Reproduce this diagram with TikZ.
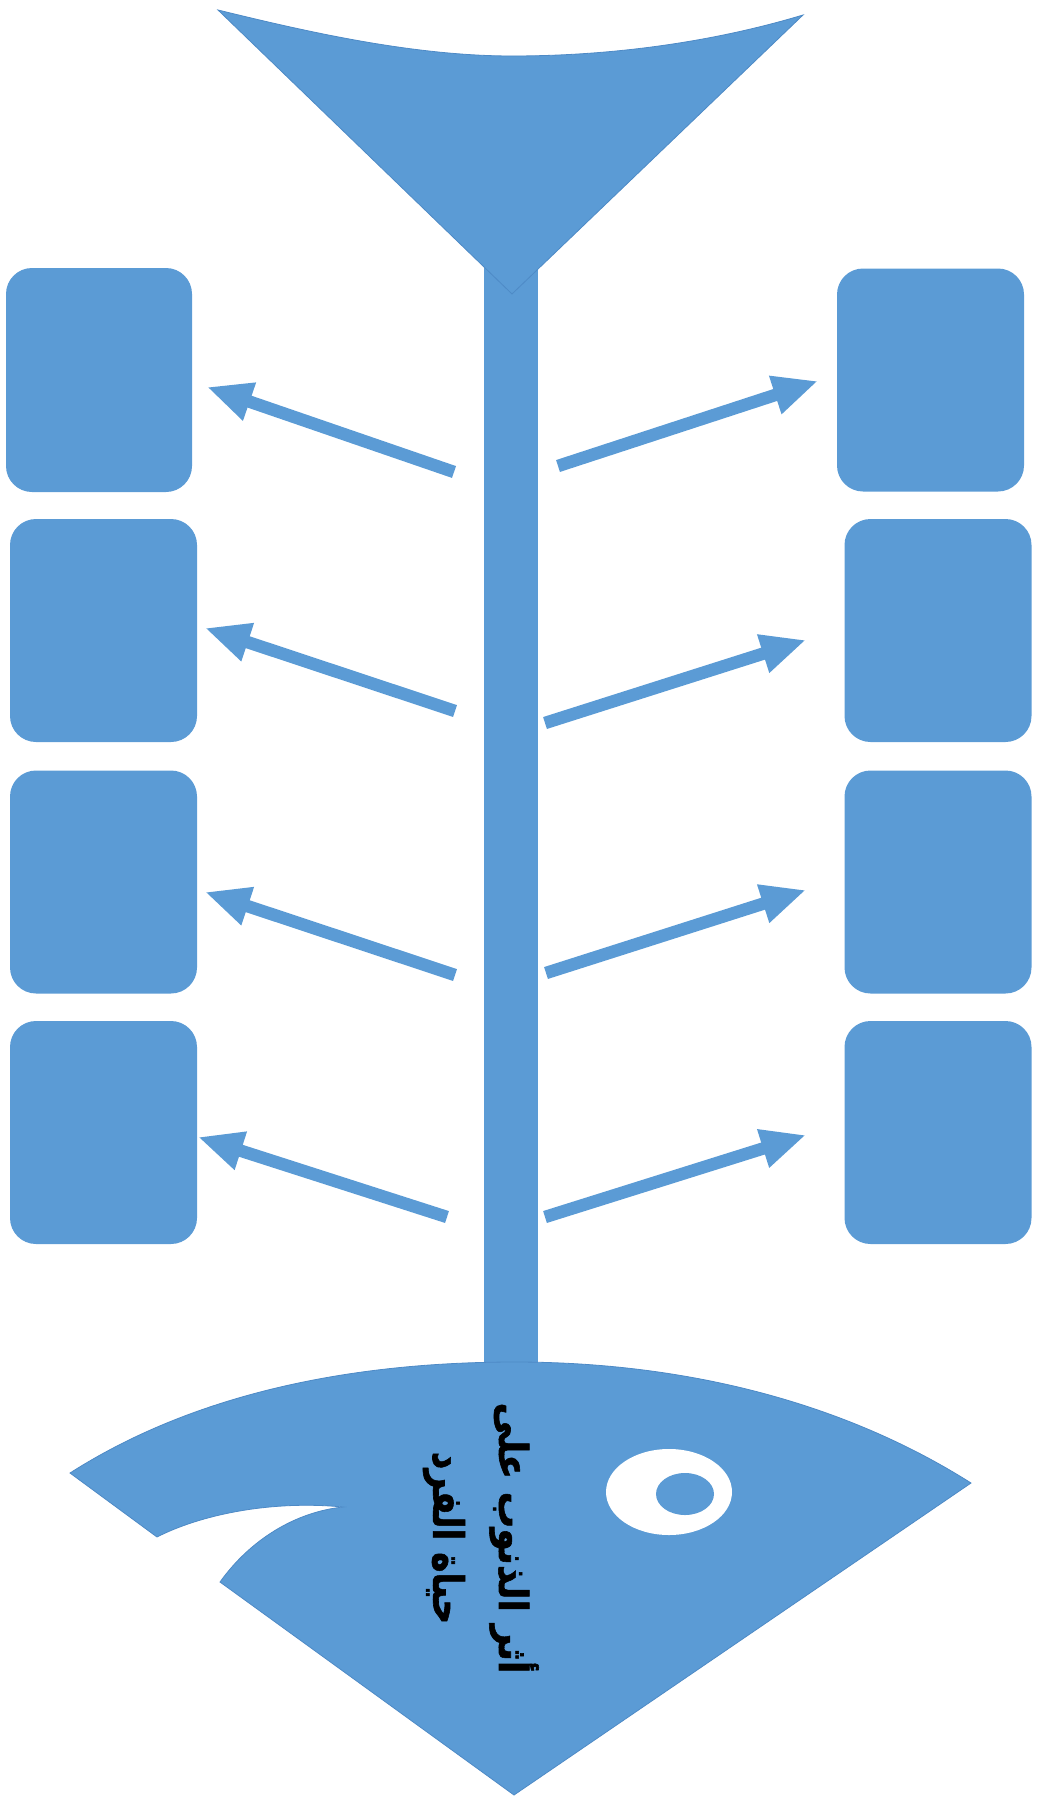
\documentclass[tikz,border=0pt]{standalone}
\usepackage{fontspec}
\usetikzlibrary{arrows.meta}
\TeXXeTstate=1
\newfontfamily\arabicfont[Script=Arabic, BoldFeatures={FakeBold=1.5}]{DejaVu Sans}
\definecolor{fishblue}{RGB}{91,155,213}
\definecolor{fishedge}{RGB}{78,138,198}
\tikzset{
  fishpart/.style={fill=fishblue, draw=fishedge, line width=0.8pt},
  bonebox/.style={rectangle, rounded corners=26pt, fill=fishblue, draw=none,
    inner sep=0pt, minimum width=187pt, minimum height=223pt},
  bonearrow/.style={draw=fishblue, line width=12.5pt,
    -{Triangle[length=45pt,width=37pt]}},
  titletext/.style={rotate=-90, inner sep=0pt,
    font=\arabicfont\bfseries\fontsize{40}{48}\selectfont},
}
\begin{document}
\begin{tikzpicture}[x=1pt,y=-1pt]
\useasboundingbox (0,0) rectangle (1038,1803);
% spine
\fill[fishblue] (484,250) rectangle (538,1375);
% tail
\path[fishpart] (218,10) .. controls (300,30) and (410,56) .. (512,56)
  .. controls (620,56) and (720,40) .. (803,15) -- (512,294) -- cycle;
% head
\path[fishpart] (70,1473) .. controls (200,1390) and (360,1362) .. (515,1362)
  .. controls (680,1362) and (840,1400) .. (971,1483)
  -- (514,1795) -- (220,1582)
  .. controls (250,1540) and (295,1512) .. (343,1507)
  .. controls (270,1500) and (200,1515) .. (157,1537) -- cycle;
% eye
\fill[white] (669,1492) ellipse [x radius=63, y radius=43];
\fill[fishblue] (685,1494) ellipse [x radius=29, y radius=21];
% boxes
\node[bonebox, minimum width=186pt, minimum height=224pt] (L1) at (99,380) {};
\node[bonebox] (L2) at (103.5,630.5) {};
\node[bonebox] (L3) at (103.5,882) {};
\node[bonebox] (L4) at (103.5,1132.5) {};
\node[bonebox] (R1) at (930.5,380) {};
\node[bonebox] (R2) at (938,630.5) {};
\node[bonebox] (R3) at (938,882) {};
\node[bonebox] (R4) at (938,1132.5) {};
% arrow end points
\coordinate (ls1) at (454,472); \coordinate (le1) at (207,387);
\coordinate (ls2) at (455,711); \coordinate (le2) at (205,628);
\coordinate (ls3) at (455,975); \coordinate (le3) at (205,892);
\coordinate (ls4) at (447,1217); \coordinate (le4) at (198,1137);
\coordinate (rs1) at (558,466); \coordinate (re1) at (818,381);
\coordinate (rs2) at (545,723); \coordinate (re2) at (806,640);
\coordinate (rs3) at (546,973); \coordinate (re3) at (806,890);
\coordinate (rs4) at (545,1217); \coordinate (re4) at (806,1135);
\foreach \i in {1,2,3,4}{
  \draw[bonearrow] (ls\i) -- (le\i);
  \draw[bonearrow] (rs\i) -- (re\i);
}
% title
\node[titletext] (title1) at (514,1538)
  {\scalebox{0.91}[1.0]{\beginR أثر الذنوب على\endR}};
\node[titletext] (title2) at (444,1538)
  {\scalebox{0.86}[1.05]{\beginR حياة الفرد\endR}};
\end{tikzpicture}
\end{document}
